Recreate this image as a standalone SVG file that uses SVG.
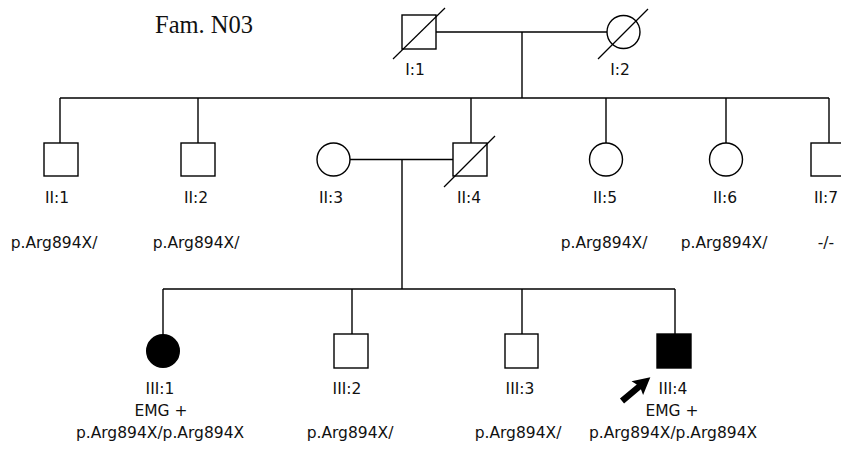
<svg xmlns="http://www.w3.org/2000/svg" width="841" height="449" viewBox="0 0 841 449">
  <style>
    .ln { stroke: #000; stroke-width: 1.4; fill: none; }
    .sym { stroke: #000; stroke-width: 1.4; fill: #fff; }
    .aff { fill: #000; }
    .dec { stroke: #000; stroke-width: 1.2; }
    .lbl { font-family: "DejaVu Sans", "Liberation Sans", sans-serif; font-size: 15.5px; fill: #111; text-anchor: middle; }
    .title { font-family: "Liberation Serif", "Times New Roman", serif; font-size: 24.5px; fill: #111; }
  </style>

  <text class="title" x="155" y="33">Fam. N03</text>

  <!-- lines of descent and marriage -->
  <g id="connectors">
    <line class="ln" x1="436" y1="32" x2="607" y2="32"/>
    <line class="ln" x1="522" y1="32" x2="522" y2="98"/>
    <line class="ln" x1="60" y1="98" x2="829" y2="98"/>
    <line class="ln" x1="60" y1="98" x2="60" y2="143"/>
    <line class="ln" x1="198" y1="98" x2="198" y2="143"/>
    <line class="ln" x1="471" y1="98" x2="471" y2="143"/>
    <line class="ln" x1="606" y1="98" x2="606" y2="143"/>
    <line class="ln" x1="726" y1="98" x2="726" y2="143"/>
    <line class="ln" x1="829" y1="98" x2="829" y2="143"/>
    <line class="ln" x1="350" y1="159.5" x2="454" y2="159.5"/>
    <line class="ln" x1="402" y1="159.5" x2="402" y2="289"/>
    <line class="ln" x1="163" y1="289" x2="675" y2="289"/>
    <line class="ln" x1="163" y1="289" x2="163" y2="335"/>
    <line class="ln" x1="352" y1="289" x2="352" y2="334"/>
    <line class="ln" x1="522" y1="289" x2="522" y2="334"/>
    <line class="ln" x1="675" y1="289" x2="675" y2="334"/>
  </g>

  <!-- generation I -->
  <g id="I1">
    <rect class="sym" x="402" y="15" width="34" height="34"/>
    <line class="dec" x1="393" y1="59" x2="445" y2="8"/>
    <text class="lbl" x="415" y="75">I:1</text>
  </g>
  <g id="I2">
    <circle class="sym" cx="623.5" cy="32" r="16.5"/>
    <line class="dec" x1="598" y1="59" x2="648" y2="9"/>
    <text class="lbl" x="620" y="75">I:2</text>
  </g>

  <!-- generation II -->
  <g id="II1">
    <rect class="sym" x="44" y="143" width="34" height="33"/>
    <text class="lbl" x="57" y="203">II:1</text>
    <text class="lbl" x="54" y="248">p.Arg894X/</text>
  </g>
  <g id="II2">
    <rect class="sym" x="181" y="143" width="34" height="33"/>
    <text class="lbl" x="196" y="203">II:2</text>
    <text class="lbl" x="196" y="248">p.Arg894X/</text>
  </g>
  <g id="II3">
    <circle class="sym" cx="333.5" cy="159.5" r="16.5"/>
    <text class="lbl" x="331" y="203">II:3</text>
  </g>
  <g id="II4">
    <rect class="sym" x="453" y="143" width="34" height="33"/>
    <line class="dec" x1="444" y1="187" x2="495" y2="136"/>
    <text class="lbl" x="469" y="203">II:4</text>
  </g>
  <g id="II5">
    <circle class="sym" cx="606" cy="159.5" r="16.5"/>
    <text class="lbl" x="605" y="203">II:5</text>
    <text class="lbl" x="604" y="248">p.Arg894X/</text>
  </g>
  <g id="II6">
    <circle class="sym" cx="726" cy="159.5" r="16.5"/>
    <text class="lbl" x="725" y="203">II:6</text>
    <text class="lbl" x="724" y="248">p.Arg894X/</text>
  </g>
  <g id="II7">
    <rect class="sym" x="811" y="143" width="34" height="33"/>
    <text class="lbl" x="826" y="203">II:7</text>
    <text class="lbl" x="826" y="248">-/-</text>
  </g>

  <!-- generation III -->
  <g id="III1">
    <circle class="sym aff" cx="163" cy="351" r="16.3"/>
    <text class="lbl" x="160" y="394">III:1</text>
    <text class="lbl" x="161" y="416">EMG +</text>
    <text class="lbl" x="160" y="438">p.Arg894X/p.Arg894X</text>
  </g>
  <g id="III2">
    <rect class="sym" x="334" y="334" width="34" height="34"/>
    <text class="lbl" x="347" y="394">III:2</text>
    <text class="lbl" x="350" y="438">p.Arg894X/</text>
  </g>
  <g id="III3">
    <rect class="sym" x="505" y="334" width="33" height="34"/>
    <text class="lbl" x="520" y="394">III:3</text>
    <text class="lbl" x="518" y="438">p.Arg894X/</text>
  </g>
  <g id="III4">
    <rect class="sym aff" x="657" y="334" width="34" height="34"/>
    <text class="lbl" x="673" y="394">III:4</text>
    <text class="lbl" x="672" y="416">EMG +</text>
    <text class="lbl" x="673" y="438">p.Arg894X/p.Arg894X</text>
    <!-- proband arrow -->
    <polygon class="aff" transform="translate(622,401) rotate(-40)" points="0,-3.2 22,-3.2 20,-9 37,0 20,9 22,3.2 0,3.2"/>
  </g>
</svg>
